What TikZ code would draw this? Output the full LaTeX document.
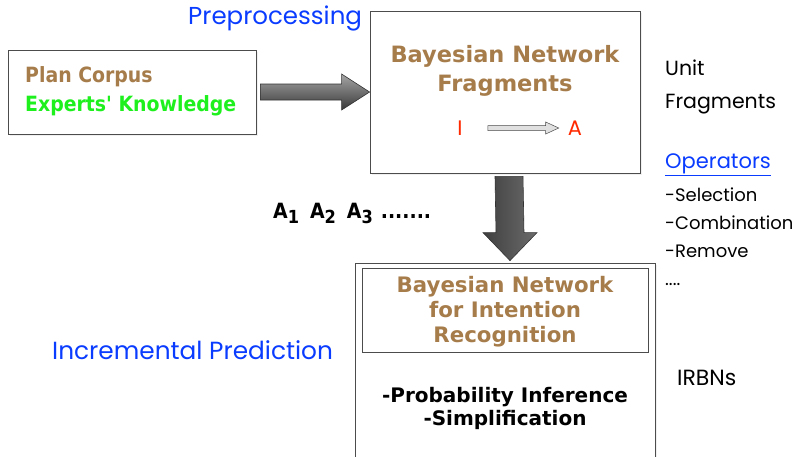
\documentclass[tikz,border=0pt]{standalone}
\usepackage{fontspec}
\setmainfont{DejaVu Sans}
\newfontfamily\geo{Poppins}
\newfontfamily\heavy{DejaVu Sans Condensed}
\usetikzlibrary{calc,positioning,shadows}
\definecolor{tan}{HTML}{A67C4A}
\definecolor{kgreen}{HTML}{1EF01E}
\definecolor{kblue}{HTML}{0A3CFF}
\definecolor{kred}{HTML}{FF2A00}
\newcommand{\idx}[1]{\lower5pt\hbox{\fontsize{18}{18}\selectfont #1}}
\tikzset{
  box/.style={draw=black!70, line width=0.8pt, fill=white, inner sep=0,
    drop shadow={opacity=0.12, shadow xshift=2pt, shadow yshift=-2pt}},
  bntext/.style={text=tan, font=\bfseries\fontsize{22.5}{29}\selectfont, align=center, inner sep=0},
  bigarrow/.style={draw=black!80, line width=0.6pt, line join=miter},
  smallarrow/.style={draw=black!70, fill=black!12, line width=0.5pt},
  geotext/.style={font=\geo\fontsize{#1}{28}\selectfont, inner sep=0, anchor=west},
}
\begin{document}
\begin{tikzpicture}[x=1pt,y=-1pt]
\useasboundingbox (0,0) rectangle (795,456);
\clip (0,0) rectangle (795,456);
\node[box, minimum width=248, minimum height=84] (corpus) at (132,92) {};
\node[inner sep=0, anchor=west, text=tan, font=\heavy\bfseries\fontsize{21}{22}\selectfont] (plan) at (25,77) {Plan Corpus};
\node[inner sep=0, anchor=west, text=kgreen, font=\heavy\bfseries\fontsize{21}{22}\selectfont] (experts) at (25,106) {Experts' Knowledge};
\node[box, minimum width=270, minimum height=162] (frag) at (505,92) {};
\node[bntext] (bnf) at (505,71) {Bayesian Network\\Fragments};
\node[inner sep=0, text=kred, font=\geo\fontsize{21}{24}\selectfont] (I) at (460,128) {I};
\node[inner sep=0, text=kred, font=\geo\fontsize{21}{24}\selectfont] (A) at (575,128) {A};
\draw[smallarrow] ($(I.east)+(25,-2.5)$) -- ($(A.west)+(-22,-2.5)$) -- ($(A.west)+(-22,-6)$)
  -- ($(A.west)+(-9,0)$) -- ($(A.west)+(-22,6)$) -- ($(A.west)+(-22,2.5)$) -- ($(I.east)+(25,2.5)$) -- cycle;
\draw[bigarrow, top color=black!35, middle color=black!50, bottom color=black!78]
  ($(corpus.east)+(4,-8)$) -- ($(frag.west)+(-28,-8)$) -- ($(frag.west)+(-28,-18)$) -- (frag.west)
  -- ($(frag.west)+(-28,18)$) -- ($(frag.west)+(-28,8)$) -- ($(corpus.east)+(4,8)$) -- cycle;
\node[box, minimum width=300, minimum height=230] (irbn) at (505,378) {};
\node[draw=black!70, line width=0.8pt, minimum width=286, minimum height=84, inner sep=0] (bnir) at (505,310) {};
\node[bntext, font=\bfseries\fontsize{21.3}{25}\selectfont] (bnirtxt) at (505,312) {Bayesian Network\\for Intention\\Recognition};
\node[inner sep=0, align=center, font=\bfseries\fontsize{20}{23}\selectfont] (ops) at (505,408) {-Probability Inference\\-Simplification};
\coordinate (dtop) at ($(frag.south)+(4,3)$);
\coordinate (dtip) at ($(irbn.north)+(5,-2)$);
\draw[bigarrow, left color=black!75, middle color=black!30, right color=black!58]
  ($(dtop)+(-14,0)$) -- ($(dtip)+(-14,-28)$) -- ($(dtip)+(-27,-28)$) -- (dtip)
  -- ($(dtip)+(27,-28)$) -- ($(dtip)+(14,-28)$) -- ($(dtop)+(14,0)$) -- cycle;
\node[geotext=24.5, text=kblue] (pre) at (188,18) {Preprocessing};
\node[geotext=24.8, text=kblue] (inc) at (52,350) {Incremental Prediction};
\node[geotext=20, align=left, font=\geo\fontsize{20.5}{33}\selectfont] (unit) at (665,87) {Unit\\Fragments};
\node[geotext=21, text=kblue] (oper) at (665,165) {\underline{Operators}};
\node[geotext=18, align=left, font=\geo\fontsize{18}{28}\selectfont] (opl) at (665,237) {-Selection\\-Combination\\-Remove\\....};
\node[geotext=22] (irbns) at (677,378) {IRBNs};
\node[inner sep=0, anchor=west, font=\heavy\bfseries\fontsize{21}{22}\selectfont] (acts) at (273,213) {A\idx{1}\hspace{11pt}A\idx{2}\hspace{11pt}A\idx{3}\hspace{8pt}.......};
\end{tikzpicture}
\end{document}
